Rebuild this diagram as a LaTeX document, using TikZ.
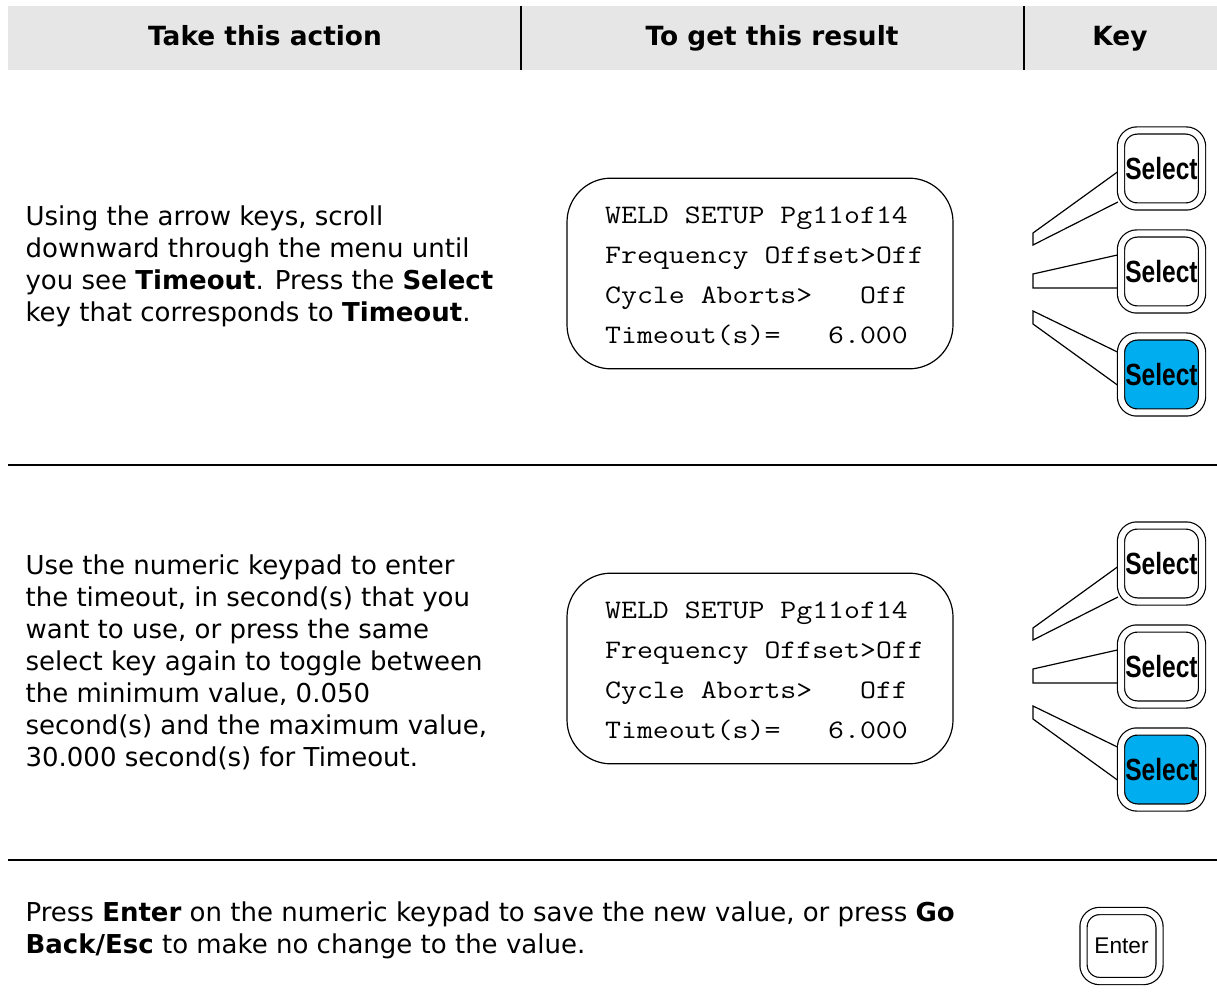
\documentclass[tikz,border=0pt]{standalone}
\usepackage{fontspec}
\setmainfont{DejaVu Sans}
\newfontfamily\keyfont{Liberation Sans}
\usepackage{tikz}
\usetikzlibrary{calc}
\definecolor{headgrey}{RGB}{230,230,230}
\definecolor{keyblue}{RGB}{0,174,239}
\newcommand{\keylabel}[1]{\scalebox{0.8}[1]{#1}}
\newcommand{\weldscreen}{\scalebox{1.16}[1]{\ttfamily\fontsize{20}{30}\selectfont
    \begin{tabular}{@{}l@{}}WELD\ SETUP\ Pg11of14\\Frequency\ Offset>Off\\Cycle\ Aborts>\ \ \ Off\\Timeout(s)=\ \ \ 6.000\end{tabular}}}

\begin{document}
\begin{tikzpicture}[x=0.75pt,y=-0.75pt,line width=0.9pt]
        \tikzstyle{headtext} = [anchor=base, font=\fontsize{19.8}{23}\selectfont\bfseries]
        \tikzstyle{action} = [anchor=west, align=left, inner sep=0pt, font=\fontsize{19.5}{24}\selectfont]
        \tikzstyle{screen} = [draw, rounded corners=33pt, minimum width=289.5pt, minimum height=143pt, inner sep=0pt]
        \tikzstyle{selkey} = [draw, double, double distance=4.5pt, rounded corners=12pt, minimum width=60.75pt, minimum height=57pt, inner sep=0pt, font=\keyfont\fontsize{23}{23}\selectfont\bfseries]
        \tikzstyle{enterkey} = [selkey, minimum width=57pt, minimum height=52.5pt, font=\keyfont\fontsize{17}{17}\selectfont]
        \tikzstyle{rule} = [line width=1.2pt]

        \useasboundingbox (0,0) rectangle (1217,1005);

        % Header
        \fill[headgrey] (8,6) rectangle (1217,70);
        \draw[rule] (521,6) -- (521,70);
        \draw[rule] (1024,6) -- (1024,70);
        \node[headtext] (h1) at (265,46) {Take this action};
        \node[headtext] (h2) at (772,46) {To get this result};
        \node[headtext] (h3) at (1120,46) {Key};

        % Row 1
        \node[action] (t1) at (25,266) {Using the arrow keys, scroll\\downward through the menu until\\you see \textbf{Timeout}. Press the \textbf{Select}\\key that corresponds to \textbf{Timeout}.};
        \node[screen] (s1) at (760,273.5) {};
        \node (l1) at (764.5,275.5) {\weldscreen};
        \node[selkey] (k1) at (1161.5,168.5) {\keylabel{Select}};
        \node[selkey] (k2) at (1161.5,271.5) {\keylabel{Select}};
        \node[selkey, fill=keyblue] (k3) at (1161.5,374.5) {\keylabel{Select}};
        \coordinate (w1a) at (1033,233);
        \coordinate (w1b) at (1033,245);
        \coordinate (w2a) at (1033,274);
        \coordinate (w2b) at (1033,288);
        \coordinate (w3a) at (1033,311);
        \coordinate (w3b) at (1033,324);
        \draw ([shift={(-3,3.5)}]k1.west) -- (w1a) -- (w1b) -- ([shift={(-2.5,33.5)}]k1.west);
        \draw ([shift={(-3,-16.5)}]k2.west) -- (w2a) -- (w2b) -- ([shift={(-3,16.5)}]k2.west);
        \draw ([shift={(-3,-22.5)}]k3.west) -- (w3a) -- (w3b) -- ([shift={(-3,10.5)}]k3.west);

        \draw[rule] (8,465) -- (1217,465);

        % Row 2
        \node[action] (t2) at (25,662) {Use the numeric keypad to enter\\the timeout, in second(s) that you\\want to use, or press the same\\select key again to toggle between\\the minimum value, 0.050\\second(s) and the maximum value,\\30.000 second(s) for Timeout.};
        \node[screen] (s2) at (760,668.5) {};
        \node (l2) at (764.5,670.5) {\weldscreen};
        \node[selkey] (k4) at (1161.5,563.5) {\keylabel{Select}};
        \node[selkey] (k5) at (1161.5,666.5) {\keylabel{Select}};
        \node[selkey, fill=keyblue] (k6) at (1161.5,769.5) {\keylabel{Select}};
        \coordinate (w4a) at (1033,628);
        \coordinate (w4b) at (1033,640);
        \coordinate (w5a) at (1033,669);
        \coordinate (w5b) at (1033,683);
        \coordinate (w6a) at (1033,706);
        \coordinate (w6b) at (1033,719);
        \draw ([shift={(-3,3.5)}]k4.west) -- (w4a) -- (w4b) -- ([shift={(-2.5,33.5)}]k4.west);
        \draw ([shift={(-3,-16.5)}]k5.west) -- (w5a) -- (w5b) -- ([shift={(-3,16.5)}]k5.west);
        \draw ([shift={(-3,-22.5)}]k6.west) -- (w6a) -- (w6b) -- ([shift={(-3,10.5)}]k6.west);

        \draw[rule] (8,860) -- (1217,860);

        % Row 3
        \node[action] (t3) at (25,930) {Press \textbf{Enter} on the numeric keypad to save the new value, or press \textbf{Go}\\\textbf{Back/Esc} to make no change to the value.};
        \node[enterkey] (k7) at (1121.5,946) {Enter};
    \end{tikzpicture}
\end{document}
